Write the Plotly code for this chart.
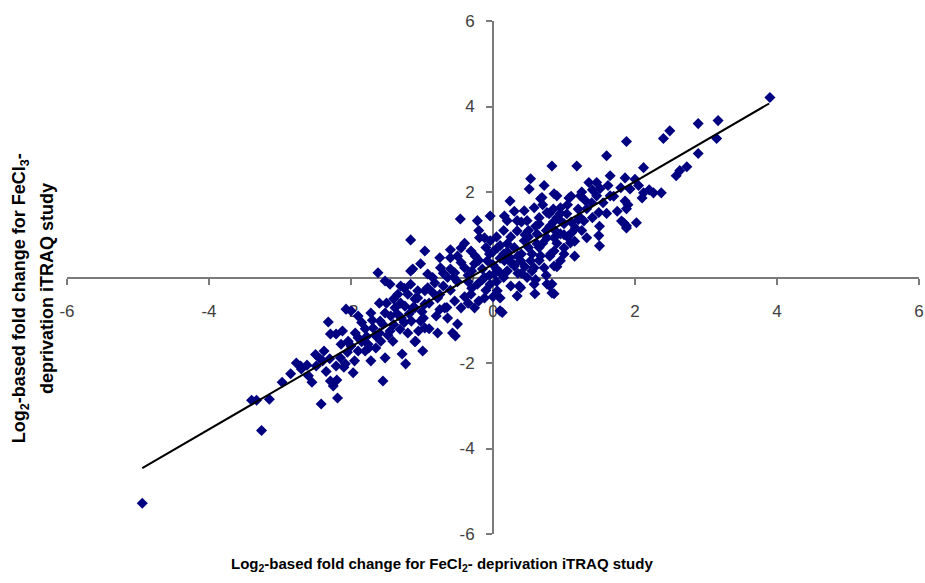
import plotly.graph_objects as go

# ---- data (log2 fold changes) ----
lower_tail = [
    (-4.94, -5.28), (-3.26, -3.58), (-3.40, -2.87), (-3.33, -2.87), (-3.15, -2.85),
    (-2.97, -2.45), (-2.77, -2.00), (-2.70, -2.14), (-2.42, -2.96), (-2.49, -2.07),
    (-2.43, -1.91), (-2.38, -1.72), (-2.32, -1.04), (-2.29, -1.32), (-2.21, -1.32),
    (-2.29, -2.42), (-2.25, -2.54), (-2.19, -2.82), (-2.21, -2.07), (-2.15, -1.88),
    (-2.14, -1.56), (-2.08, -2.02), (-2.04, -1.49), (-2.07, -0.74), (-2.00, -0.78),
    (-1.97, -2.23), (-1.94, -1.30), (-1.90, -1.41), (-1.90, -1.72), (-1.80, -1.72),
    (-1.76, -1.56), (-1.72, -0.83), (-1.69, -1.18), (-1.72, -1.95), (-1.65, -1.37),
    (-1.62, 0.11), (-1.59, -1.02), (-1.58, -1.49), (-1.55, -2.42), (-1.52, -1.88),
    (-1.52, -0.08), (-1.52, -0.83), (-1.45, -0.16), (-1.45, -1.25), (-1.44, -0.90),
    (-1.41, -1.49), (-1.38, -0.71), (-1.34, -0.39), (-1.31, -1.21), (-1.29, -0.95),
    (-1.28, -1.79), (-1.23, -2.02), (-1.24, -0.67), (-1.20, -0.39), (-1.16, 0.15),
    (-1.16, -0.16), (-1.15, -1.02), (-1.13, -0.71), (-1.09, -1.49), (-1.06, -0.48),
    (-1.02, 0.32), (-1.02, -1.02), (-0.99, -1.72), (-0.96, 0.62), (-1.16, 0.88),
    (-0.96, -0.31), (-0.96, -1.18), (-2.71, -2.07), (-2.40, -1.95), (-2.60, -2.30),
    (-2.50, -1.80), (-2.30, -1.90), (-2.10, -2.10), (-2.20, -2.40), (-1.75, -1.65),
    (-1.85, -1.50), (-1.80, -1.20), (-2.00, -1.60), (-1.60, -1.30), (-1.70, -1.00),
    (-1.50, -0.60), (-1.40, -1.10), (-1.30, -0.60), (-1.30, -0.20), (-1.20, -1.30),
    (-1.10, -0.50), (-1.10, -1.50), (-1.90, -0.90), (-1.00, -0.80), (-0.90, -1.20),
    (-2.55, -2.45), (-2.35, -2.20), (-2.05, -1.75), (-1.95, -1.95), (-1.85, -1.05),
    (-1.65, -1.65), (-1.55, -1.10), (-1.48, -1.35), (-1.35, -0.85), (-1.25, -1.05),
    (-1.18, -0.85), (-1.05, -1.25), (-0.98, -0.95), (-1.40, -0.50), (-1.60, -0.60),
    (-1.78, -1.38), (-2.12, -1.25), (-2.62, -2.05), (-2.85, -2.25), (-1.25, -0.25),
]

core = [
    (-0.78, -1.30), (-0.57, -1.30), (-0.53, -1.37), (-0.46, 1.37), (-0.22, 1.33),
    (-0.04, 1.44), (-0.19, 0.93), (0.10, -0.78), (0.24, 1.79), (0.34, -0.43),
    (0.37, -0.20), (0.48, 0.00), (0.51, 2.07), (0.53, 2.31), (0.59, -0.38),
    (0.72, 2.15), (0.83, 2.61), (0.86, -0.38), (0.69, 1.87), (0.62, 0.79),
    (0.80, -0.20), (0.86, 0.93), (1.09, 0.81), (-0.75, 0.46), (-0.60, 0.46),
    (-1.13, 0.20), (-0.74, 0.23), (0.16, 1.44), (0.20, 1.33), (0.34, 1.33),
    (0.48, 1.33), (0.65, 1.40), (0.76, 1.52), (-0.12, 0.93), (-0.04, 0.86),
    (0.06, 0.69), (0.20, 0.79), (0.34, 1.09), (0.44, 0.86), (0.62, 1.02),
    (0.76, 0.93), (0.95, 1.02), (1.00, 0.69), (0.67, 0.51), (0.53, 0.39),
    (0.39, 0.39), (0.24, 0.46), (0.16, 0.39), (-0.08, 0.39), (-0.26, 0.32),
    (-0.40, 0.23), (-0.54, 0.11), (-0.64, 0.00), (-0.82, -0.13), (-0.92, -0.24),
    (-1.06, -0.31), (-1.10, -0.71), (-0.96, -0.62), (-0.78, -0.48), (-0.68, -0.71),
    (-0.54, -0.55), (-0.45, -0.71), (-0.31, -0.39), (-0.22, -0.16), (-0.12, 0.00),
    (0.02, 0.08), (0.10, 0.11), (0.20, 0.15), (0.30, 0.27), (-0.04, -0.16),
    (0.06, -0.31), (-0.12, -0.48), (-0.26, -0.71), (0.10, -0.48), (0.13, -0.82),
    (0.39, -0.24), (0.58, -0.16), (0.76, -0.15), (0.58, 0.23), (0.72, 0.23),
    (0.86, 0.27), (0.95, 0.39), (0.44, 1.56), (0.58, 1.63), (0.67, 1.84),
    (0.90, 1.40), (1.00, 1.26), (-0.45, 0.69), (-0.31, 0.62), (-0.92, 0.08),
    (-0.64, -0.95), (-0.50, -1.09), (-0.70, -0.20), (-0.60, 0.20), (-0.50, -0.10),
    (-0.45, 0.35), (-0.35, 0.05), (-0.30, -0.25), (-0.25, 0.50), (-0.15, 0.20),
    (-0.10, -0.30), (-0.05, 0.55), (0.00, 0.30), (0.05, -0.10), (0.10, 0.45),
    (0.15, 0.00), (0.20, 0.60), (0.25, -0.20), (0.30, 0.70), (0.35, 0.10),
    (0.40, 0.55), (0.45, 1.00), (0.50, 0.70), (0.55, 0.15), (0.60, 1.20),
    (0.65, 0.40), (0.70, 0.80), (0.75, 1.10), (0.80, 0.50), (0.85, 1.30),
    (0.90, 0.80), (0.95, 1.50), (1.00, 1.00), (1.05, 1.70), (1.10, 1.30),
    (1.15, 0.50), (1.20, 1.60), (1.25, 1.10), (1.30, 1.80), (-0.90, -0.60),
    (-0.85, 0.00), (-0.80, -0.90), (-0.75, -0.40), (-0.65, -0.70), (-0.55, 0.00),
    (-0.40, -0.45), (-0.20, -0.55), (0.00, -0.45), (0.10, 0.75), (0.25, 0.95),
    (-0.05, 0.05), (0.30, 0.30), (0.55, 0.55), (0.20, 0.15), (-0.30, 0.15),
    (-0.60, -0.30), (0.70, 1.70), (0.30, 1.55), (0.15, 1.10), (0.40, 1.30),
    (0.60, -0.05), (0.75, 0.05), (0.90, 0.25), (1.00, 0.55), (1.15, 0.85),
    (0.45, 0.25), (0.05, 0.95), (-0.20, 1.10), (-0.40, 0.80), (-0.60, 0.65),
    (-0.10, 0.70), (0.83, -0.15), (0.83, -0.36), (-0.85, -0.35), (-0.70, 0.10),
    (-0.35, -0.10), (-0.15, -0.05), (0.05, 0.20), (0.15, 0.55), (0.35, 0.50),
    (0.50, 0.95), (0.65, 1.25), (0.80, 1.20), (0.50, 1.10), (0.25, 0.35),
    (-0.20, 0.40), (-0.50, 0.50), (-0.75, -0.75), (-0.35, -0.60), (0.00, 0.60),
    (0.40, 0.10), (0.65, 0.70), (0.85, 1.60), (1.05, 0.95), (1.20, 1.35),
]

upper_tail = [
    (1.18, 2.61), (1.35, 2.22), (1.32, 0.93), (1.46, 1.91), (1.49, 0.98),
    (1.50, 0.74), (1.60, 2.85), (1.65, 2.38), (1.86, 2.33), (1.86, 1.79),
    (1.84, 1.28), (1.88, 1.21), (2.02, 1.28), (2.12, 2.57), (1.93, 2.07),
    (3.17, 3.67), (2.89, 3.60), (2.49, 3.43), (2.40, 3.25), (1.88, 3.18),
    (3.15, 3.25), (2.89, 2.90), (2.73, 2.59), (2.63, 2.50), (2.58, 2.38),
    (1.46, 2.22), (1.51, 2.08), (2.05, 2.15), (2.12, 1.98), (2.26, 1.98),
    (2.37, 1.98), (2.10, 1.86), (1.88, 1.61), (1.81, 1.32), (1.88, 1.16),
    (1.65, 1.91), (1.23, 1.91), (1.07, 1.86), (0.90, 1.91), (1.39, 1.75),
    (1.32, 1.61), (1.49, 1.52), (1.23, 1.40), (1.16, 1.16), (1.11, 1.05),
    (0.95, 1.63), (1.04, 1.49), (0.95, 1.33), (0.88, 1.09), (0.86, 0.62),
    (0.81, 0.55), (1.28, 1.32), (0.79, 1.49), (0.86, 1.96), (3.90, 4.21),
    (1.40, 1.40), (1.60, 1.50), (1.70, 1.90), (1.50, 1.20), (1.80, 2.10),
    (1.90, 1.70), (2.00, 2.30), (1.10, 1.90), (1.25, 2.00), (1.55, 1.75),
    (1.75, 1.55), (1.40, 2.05), (1.62, 2.15), (2.20, 2.05),
]

# regression line end points
fit_x = [-4.94, 3.89]
fit_y = [-4.46, 4.07]

tick_vals = [-6, -4, -2, 0, 2, 4, 6]

points = lower_tail + core + upper_tail
px_ = [p[0] for p in points]
py_ = [p[1] for p in points]

fig = go.Figure()
fig.add_trace(go.Scatter(
    x=px_, y=py_, mode="markers",
    marker=dict(symbol="diamond", size=8.5, color="#000080", line=dict(width=0)),
    showlegend=False, hoverinfo="x+y",
))
fig.add_trace(go.Scatter(
    x=fit_x, y=fit_y, mode="lines",
    line=dict(color="black", width=2),
    showlegend=False, hoverinfo="skip",
))

axis_common = dict(
    range=[-6, 6], tickvals=tick_vals, ticktext=[str(v) for v in tick_vals],
    showgrid=False, zeroline=False, showline=True, linecolor="#7a7a7a", linewidth=2,
    ticks="outside", ticklen=6, tickwidth=1.5, tickcolor="#7a7a7a",
    tickfont=dict(family="Liberation Sans, Arial", size=17, color="#404040"),
    anchor="free", position=0.5, layer="below traces", fixedrange=True,
    ticklabeloverflow="allow",
)
fig.update_layout(
    autosize=True,
    margin=dict(l=67, r=1, t=21, b=49),
    paper_bgcolor="white", plot_bgcolor="white",
    xaxis=dict(**axis_common, ticklabelstandoff=12),
    yaxis=dict(**axis_common, ticklabelstandoff=8),
)

title_font = dict(family="Liberation Sans, Arial", size=15, color="black")
fig.add_annotation(
    text="<b>Log<sub>2</sub>-based fold change for FeCl<sub>2</sub>- deprivation iTRAQ study</b>",
    xref="paper", yref="paper", x=0.44, y=-0.06, xanchor="center", yanchor="middle",
    showarrow=False, font=title_font,
)
ytitle_font = dict(family="Liberation Sans, Arial", size=18, color="black")
fig.add_annotation(
    text="<b>Log<sub>2</sub>-based fold change for FeCl<sub>3</sub>-</b>",
    xref="paper", yref="paper", x=-0.0548, y=0.46, xanchor="center", yanchor="middle",
    textangle=-90, showarrow=False, font=ytitle_font,
)
fig.add_annotation(
    text="<b>deprivation iTRAQ study</b>",
    xref="paper", yref="paper", x=-0.0233, y=0.478, xanchor="center", yanchor="middle",
    textangle=-90, showarrow=False, font=ytitle_font,
)

fig.write_html("out.html", default_width="100%", default_height="100%")
